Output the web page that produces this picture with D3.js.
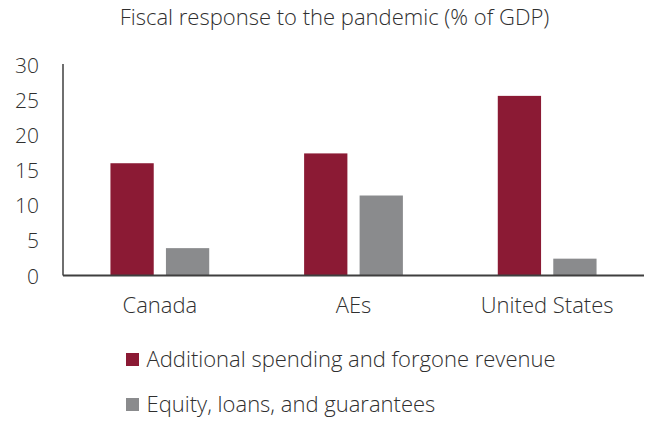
<!DOCTYPE html>
<html>
<head>
<meta charset="utf-8">
<script src="https://cdn.jsdelivr.net/npm/d3@7"></script>
<style>
  body { margin: 0; background: #fff; }
  svg text { font-family: "Open Sans", Lato, sans-serif; font-weight: 300; fill: #2f2f2f; }
</style>
</head>
<body>
<div id="chart"></div>
<script>
// data
var categories = ["Canada", "AEs", "United States"];
var seriesNames = ["Additional spending and forgone revenue", "Equity, loans, and guarantees"];
var spending = [16.0, 17.4, 25.6];
var equity = [3.9, 11.4, 2.4];
var yTicks = [0, 5, 10, 15, 20, 25, 30];
var colors = ["#8b1a34", "#8a8b8d"];

var svgWidth = 650;
var svgHeight = 422;
var margin = { top: 65, right: 6, bottom: 146.5, left: 63 };
var chartWidth = svgWidth - margin.left - margin.right;
var chartHeight = svgHeight - margin.top - margin.bottom;
var fontSize = 22;

var svg = d3.select("#chart")
  .append("svg")
  .attr("width", svgWidth)
  .attr("height", svgHeight);

svg.append("text")
  .attr("x", 334.5)
  .attr("y", 25)
  .attr("text-anchor", "middle")
  .attr("font-size", fontSize)
  .text("Fiscal response to the pandemic (% of GDP)");

var chartGroup = svg.append("g")
  .attr("transform", `translate(${margin.left}, ${margin.top})`);

var xScale = d3.scaleBand()
  .domain(categories)
  .range([0, chartWidth])
  .paddingInner(0)
  .paddingOuter(0);

var xInner = d3.scaleBand()
  .domain([0, 1])
  .range([xScale.bandwidth() * 0.245, xScale.bandwidth() * 0.755])
  .paddingInner(0.22);

var yScale = d3.scaleLinear()
  .domain([0, 30])
  .range([chartHeight, 0]);

// y axis: labels only plus vertical line
var yAxis = d3.axisLeft(yScale).tickValues(yTicks).tickSize(0).tickPadding(24);
var yG = chartGroup.append("g").call(yAxis);
yG.select(".domain").remove();
yG.selectAll("text").attr("font-size", 21).attr("dy", "0.36em").attr("font-family", null);

chartGroup.append("line")
  .attr("x1", 0).attr("x2", 0)
  .attr("y1", -1).attr("y2", chartHeight)
  .attr("stroke", "#3f3f3f")
  .attr("stroke-width", 1.5);

var rows = categories.map(function(c, i) { return { cat: c, vals: [spending[i], equity[i]] }; });

var groups = chartGroup.selectAll(".grp")
  .data(rows)
  .enter()
  .append("g")
  .attr("transform", d => `translate(${xScale(d.cat)}, 0)`);

groups.selectAll("rect")
  .data(d => d.vals)
  .enter()
  .append("rect")
  .attr("x", (d, i) => xInner(i))
  .attr("width", xInner.bandwidth())
  .attr("y", d => yScale(d))
  .attr("height", d => chartHeight - yScale(d))
  .attr("fill", (d, i) => colors[i]);

// x axis
var xAxis = d3.axisBottom(xScale).tickSize(0).tickPadding(21.5);
var xG = chartGroup.append("g")
  .attr("transform", `translate(0, ${chartHeight})`)
  .call(xAxis);
xG.select(".domain").remove();
xG.selectAll("text").attr("font-size", fontSize).attr("font-family", null);

chartGroup.append("line")
  .attr("x1", 0).attr("x2", chartWidth)
  .attr("y1", chartHeight).attr("y2", chartHeight)
  .attr("stroke", "#3f3f3f")
  .attr("stroke-width", 2);

// legend
var legend = svg.append("g")
  .selectAll("g")
  .data(seriesNames)
  .enter()
  .append("g")
  .attr("transform", (d, i) => `translate(126, ${353 + i * 45})`);

legend.append("rect")
  .attr("width", 13)
  .attr("height", 13)
  .attr("fill", (d, i) => colors[i]);

legend.append("text")
  .attr("x", 20.5)
  .attr("y", 13.5)
  .attr("font-size", fontSize)
  .text(d => d);
</script>
</body>
</html>
